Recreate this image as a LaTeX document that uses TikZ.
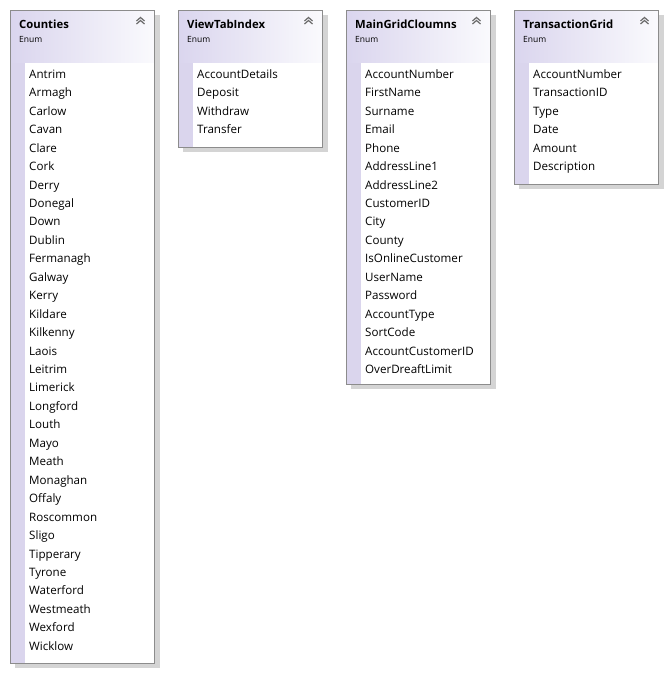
\documentclass[tikz,border=0pt]{standalone}
\usepackage{fontspec}
\setmainfont{Open Sans}
\definecolor{strip}{HTML}{DAD5ED}
\definecolor{hdrL}{HTML}{DAD5EE}
\definecolor{hdrR}{HTML}{FAFAFD}
\definecolor{framec}{HTML}{8C8C8C}
\definecolor{shadowc}{HTML}{D4D4D4}
\definecolor{chev}{HTML}{6A6A6A}
\tikzset{
  item/.style={anchor=base west, inner sep=0pt, font=\fontsize{11.6}{12}\selectfont, text=black},
  boxtitle/.style={anchor=base west, inner sep=0pt, font=\bfseries\fontsize{11.3}{12}\selectfont, text=black},
  kind/.style={anchor=base west, inner sep=0pt, font=\fontsize{8.5}{9}\selectfont, text=black},
  boxframe/.style={draw=framec, line width=1pt, inner sep=0pt, anchor=north west, minimum width=144pt},
  chevline/.style={draw=chev, line width=1.2pt},
}
\newcommand{\EnumBox}[5]{%
  \fill[shadowc] (#2+5,15) rectangle (#2+150,#3+5);
  \shade[left color=hdrL,right color=hdrR] (#2,10) rectangle (#2+144,#3);
  \fill[strip] (#2,63) rectangle (#2+15,#3);
  \fill[white] (#2+15,63) rectangle (#2+144,#3);
  \node[boxframe, minimum height={#3pt-10pt}] (#1) at (#2,10) {};
  \draw[chevline] (#2+126.5,21) -- (#2+130.5,17.5) -- (#2+134.5,21);
  \draw[chevline] (#2+126.5,24) -- (#2+130.5,20.5) -- (#2+134.5,24);
  \node[boxtitle] (#1-title) at (#2+9,28.5) {#4};
  \node[kind] (#1-kind) at (#2+9,42.9) {Enum};
  \foreach \t [count=\i from 0] in {#5}
    \node[item] (#1-\i) at (#2+19,78.3+18.45*\i) {\t};
}
\begin{document}
\begin{tikzpicture}[x=1pt,y=-1pt]
\useasboundingbox (0,0) rectangle (667,673);
\fill[white] (0,0) rectangle (667,673);
\EnumBox{counties}{10}{663}{Counties}{Antrim,Armagh,Carlow,Cavan,Clare,Cork,Derry,Donegal,Down,Dublin,Fermanagh,Galway,Kerry,Kildare,Kilkenny,Laois,Leitrim,Limerick,Longford,Louth,Mayo,Meath,Monaghan,Offaly,Roscommon,Sligo,Tipperary,Tyrone,Waterford,Westmeath,Wexford,Wicklow}
\EnumBox{viewtab}{178}{147}{ViewTabIndex}{AccountDetails,Deposit,Withdraw,Transfer}
\EnumBox{maingrid}{346}{384}{MainGridCloumns}{AccountNumber,FirstName,Surname,Email,Phone,AddressLine1,AddressLine2,CustomerID,City,County,IsOnlineCustomer,UserName,Password,AccountType,SortCode,AccountCustomerID,OverDreaftLimit}
\EnumBox{transgrid}{514}{184}{TransactionGrid}{AccountNumber,TransactionID,Type,Date,Amount,Description}
\end{tikzpicture}
\end{document}
